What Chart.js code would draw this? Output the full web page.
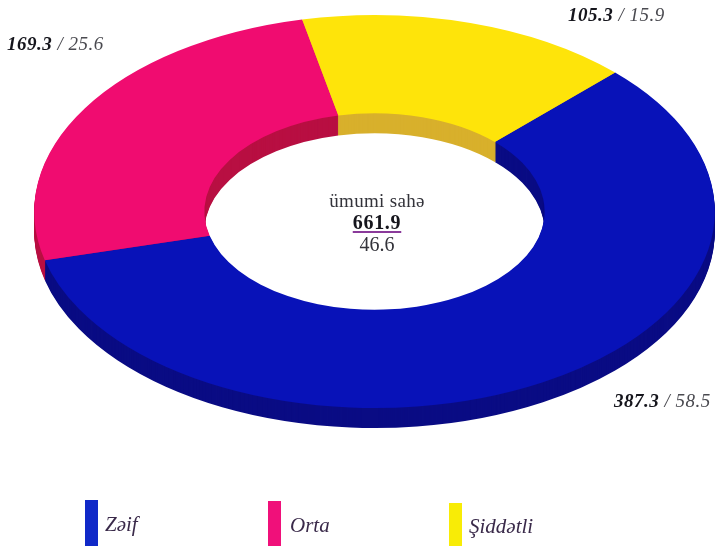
<!DOCTYPE html>
<html lang="az">
<head>
<meta charset="utf-8">
<script src="https://cdn.jsdelivr.net/npm/chart.js@4"></script>
<style>
html,body{margin:0;padding:0;background:#fff;overflow:hidden}
#wrap{position:relative;width:716px;height:546px;overflow:hidden;font-family:"Liberation Serif",serif;color:#2a2a33}
canvas{position:absolute;left:0;top:0}
.t{position:absolute;white-space:nowrap;line-height:1}
.val{font-size:19px;letter-spacing:.5px;font-style:italic;color:#4a4a50}
.val b{color:#15151c}
.c{left:227px;width:300px;text-align:center;font-size:19px;letter-spacing:.3px;color:#33333a}
.c b{font-size:20px;letter-spacing:.7px;color:#15151c;text-decoration:underline;text-decoration-color:#8a3a9a;text-underline-offset:2px}
.c.n{font-size:20px;letter-spacing:0}
.sw{position:absolute;width:13px}
.lg{font-size:21px;font-style:italic;color:#3a2a4a}
</style>
</head>
<body>
<div id="wrap">
<canvas id="c" width="716" height="546"></canvas>
</div>
<script>
const categories = ["Zəif", "Orta", "Şiddətli"];
const areas = [387.3, 169.3, 105.3];
const shares = [58.5, 25.6, 15.9];
const topColors = ["#0812b8", "#f00c70", "#fee40a"];
const wallColors = ["#0a0c84", "#b80f42", "#d8b02c"];
const legendColors = ["#1029c8", "#f0107a", "#f8ec06"];
const centerTitle = "ümumi sahə";
const centerTotal = "661.9";
const centerShare = "46.6";

const stretchX = 340.3 / 196.5;
const depth = 20;

function withStretch(ctx, chart, dy, fn) {
  const el = chart.getDatasetMeta(0).data[0];
  ctx.save();
  ctx.translate(el.x, el.y + dy);
  ctx.scale(stretchX, 1);
  ctx.translate(-el.x, -el.y);
  fn();
  ctx.restore();
}

const tiltedRing = {
  id: "tiltedRing",
  beforeDatasetDraw(chart) {
    const ctx = chart.ctx;
    const arcs = chart.getDatasetMeta(0).data;
    for (let d = depth; d >= 1; d--) {
      withStretch(ctx, chart, d, () => {
        arcs.forEach((arc, i) => {
          const ghost = Object.create(arc);
          const opts = Object.create(arc.options);
          opts.backgroundColor = wallColors[i];
          ghost.options = opts;
          arc.draw.call(ghost, ctx);
        });
      });
    }
    withStretch(ctx, chart, 0, () => {
      arcs.forEach(arc => arc.draw(ctx));
    });
    return false;
  }
};

new Chart(document.getElementById("c"), {
  type: "doughnut",
  data: {
    labels: categories,
    datasets: [{ data: areas, backgroundColor: topColors, borderWidth: 0 }]
  },
  options: {
    responsive: false,
    animation: false,
    rotation: 45,
    cutout: "50%",
    layout: { padding: { left: 33, right: 0, top: 15, bottom: 138 } },
    plugins: { legend: { display: false }, tooltip: { enabled: false } }
  },
  plugins: [tiltedRing]
});

const wrap = document.getElementById("wrap");
function addText(cls, html, x, y) {
  const el = document.createElement("div");
  el.className = "t " + cls;
  el.innerHTML = html;
  if (x !== null) el.style.left = x + "px";
  el.style.top = y + "px";
  wrap.appendChild(el);
}
const labelSpots = [[614, 391], [7, 34], [568, 5]];
areas.forEach((a, i) => {
  addText("val", "<b>" + a.toFixed(1) + "</b> / " + shares[i].toFixed(1), labelSpots[i][0], labelSpots[i][1]);
});
addText("c", centerTitle, null, 191);
addText("c", "<b>" + centerTotal + "</b>", null, 212);
addText("c n", centerShare, null, 234);

const swatchSpots = [[85, 500], [268, 501], [449, 503]];
const legendSpots = [[105, 514], [290, 515], [469, 516]];
categories.forEach((name, i) => {
  const s = document.createElement("div");
  s.className = "sw";
  s.style.cssText = "left:" + swatchSpots[i][0] + "px;top:" + swatchSpots[i][1] + "px;height:" + (546 - swatchSpots[i][1]) + "px;background:" + legendColors[i];
  wrap.appendChild(s);
  addText("lg", name, legendSpots[i][0], legendSpots[i][1]);
});
</script>
</body>
</html>
